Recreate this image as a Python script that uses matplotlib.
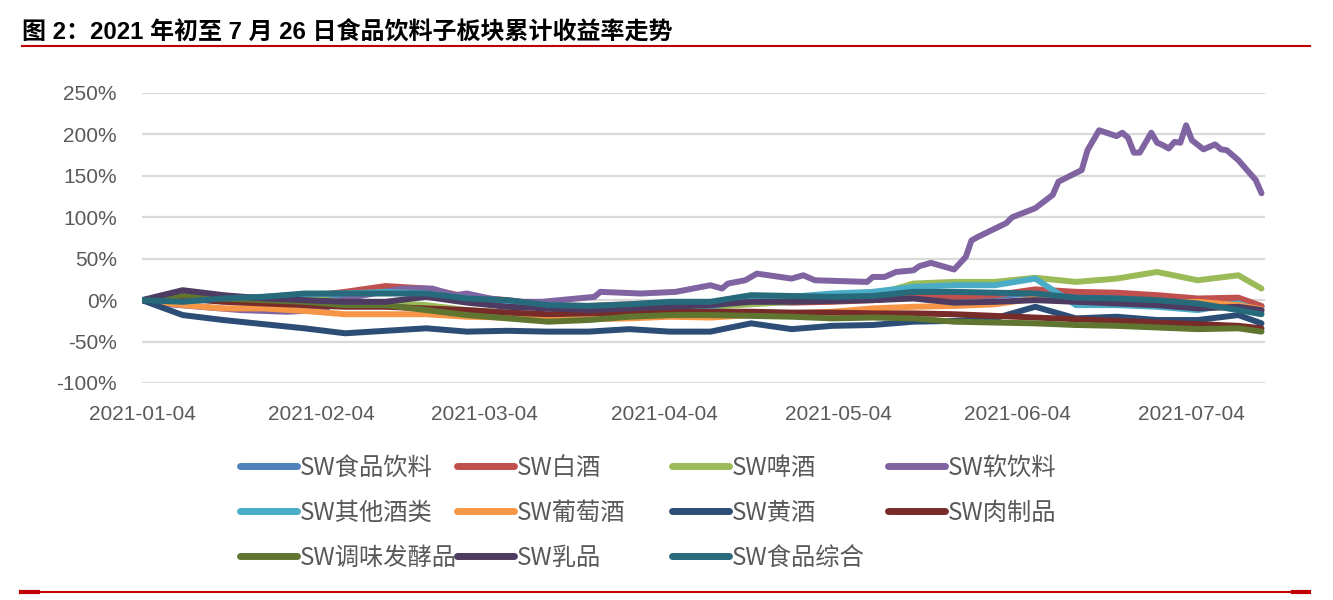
import matplotlib
matplotlib.use("Agg")
import matplotlib.pyplot as plt
import matplotlib.dates as mdates
from matplotlib.lines import Line2D
from matplotlib.ticker import FixedLocator, FuncFormatter
import pandas as pd

plt.rcParams['font.family'] = ['Liberation Sans', 'Noto Sans CJK SC', 'DejaVu Sans']

title = "图 2：2021 年初至 7 月 26 日食品饮料子板块累计收益率走势"

# weekly sampling dates for most series
dates_week = ['2021-01-04', '2021-01-11', '2021-01-18', '2021-01-25', '2021-02-01',
              '2021-02-08', '2021-02-15', '2021-02-22', '2021-03-01', '2021-03-08',
              '2021-03-15', '2021-03-22', '2021-03-29', '2021-04-05', '2021-04-12',
              '2021-04-19', '2021-04-26', '2021-05-03', '2021-05-10', '2021-05-17',
              '2021-05-24', '2021-05-31', '2021-06-07', '2021-06-14', '2021-06-21',
              '2021-06-28', '2021-07-05', '2021-07-12', '2021-07-16']

food_bev = [0, 0, 0, 2, 4, 6, 12, 10, 2, -2, -7, -8, -6, -4, -4, -2, -2, -1, 1, 4, 4, 5, 8, 5, 4, 2, -2, -2, -8]
baijiu = [0, 2, 0, 2, 4, 10, 17, 14, 4, 0, -6, -7, -5, -3, -3, -2, -3, -2, 0, 4, 4, 6, 13, 10, 9, 6, 2, 3, -7]
beer = [0, 4, 0, 0, 2, -2, -3, -6, -12, -15, -18, -15, -12, -12, -8, -5, -2, 4, 6, 20, 22, 22, 27, 22, 26, 34, 24, 30, 14]
other_liquor = [0, -2, 2, 4, 7, 8, 10, 8, 2, -2, -6, -8, -6, -4, -8, 2, 4, 8, 10, 16, 18, 18, 26, -6, -6, -8, -12, -4, -14]
wine = [0, -6, -10, -10, -13, -17, -17, -17, -20, -21, -24, -23, -22, -20, -21, -18, -16, -14, -10, -8, -7, -5, 2, 0, -1, -3, -2, -6, -11]
rice_wine = [0, -18, -24, -29, -34, -40, -37, -34, -38, -37, -38, -38, -35, -38, -38, -28, -35, -31, -30, -26, -25, -22, -8, -22, -20, -24, -24, -18, -28]
meat = [0, 2, -2, -4, -6, -8, -8, -10, -12, -15, -17, -16, -15, -14, -14, -14, -15, -15, -16, -16, -17, -19, -21, -23, -25, -27, -29, -31, -34]
seasoning = [0, 6, 2, 0, -2, -6, -6, -12, -18, -22, -26, -24, -20, -18, -18, -19, -20, -22, -21, -22, -26, -27, -28, -30, -31, -33, -35, -34, -38]
dairy = [0, 12, 6, 2, 0, -2, -2, 4, -3, -8, -10, -12, -10, -8, -6, -2, -2, -1, 0, 2, -3, -2, 0, -2, -4, -6, -10, -8, -12]
food_misc = [0, -2, 2, 4, 8, 8, 8, 8, 2, 0, -6, -7, -5, -2, -2, 6, 5, 4, 5, 10, 10, 9, 8, 3, 2, 0, -4, -12, -17]

# soft drinks need finer detail
dates_soft = ['2021-01-04', '2021-01-07', '2021-01-14', '2021-01-21', '2021-01-29', '2021-02-04',
              '2021-02-08', '2021-02-13', '2021-02-18', '2021-02-23', '2021-02-27', '2021-03-01',
              '2021-03-05', '2021-03-09', '2021-03-14', '2021-03-23', '2021-03-24', '2021-03-31',
              '2021-04-06', '2021-04-12', '2021-04-14', '2021-04-15', '2021-04-18', '2021-04-20',
              '2021-04-22', '2021-04-26', '2021-04-28', '2021-04-30', '2021-05-09', '2021-05-10',
              '2021-05-12', '2021-05-14', '2021-05-17', '2021-05-18', '2021-05-20', '2021-05-24',
              '2021-05-26', '2021-05-27', '2021-05-28', '2021-06-02', '2021-06-03', '2021-06-07',
              '2021-06-10', '2021-06-11', '2021-06-15', '2021-06-16', '2021-06-18', '2021-06-21',
              '2021-06-22', '2021-06-23', '2021-06-24', '2021-06-25', '2021-06-27', '2021-06-28',
              '2021-06-29', '2021-06-30', '2021-07-01', '2021-07-02', '2021-07-03', '2021-07-04',
              '2021-07-06', '2021-07-08', '2021-07-09', '2021-07-10', '2021-07-12', '2021-07-15',
              '2021-07-16']
soft_drink = [0, -4, -8, -12, -14, -12, 2, 8, 14, 14, 6, 8,
              2, -2, -2, 4, 10, 8, 10, 18, 14, 20, 24, 32,
              30, 26, 30, 24, 22, 28, 28, 34, 36, 41, 45, 37,
              52, 72, 76, 93, 100, 111, 127, 143, 157, 181, 205, 198,
              202, 196, 178, 178, 202, 190, 187, 183, 191, 190, 211, 193,
              182, 188, 182, 181, 169, 145, 129]

names = ['SW食品饮料', 'SW白酒', 'SW啤酒', 'SW软饮料', 'SW其他酒类', 'SW葡萄酒',
         'SW黄酒', 'SW肉制品', 'SW调味发酵品', 'SW乳品', 'SW食品综合']
colors = ['#4F81BD', '#C0504D', '#9BBB59', '#8064A2', '#4BACC6', '#F79646',
          '#2C4D75', '#772C2A', '#5F7530', '#4D3B62', '#276A7C']
weekly = [food_bev, baijiu, beer, None, other_liquor, wine, rice_wine, meat,
          seasoning, dairy, food_misc]

tick_dates = ['2021-01-04', '2021-02-04', '2021-03-04', '2021-04-04',
              '2021-05-04', '2021-06-04', '2021-07-04']

W, H = 1333, 600
fig = plt.figure(figsize=(W / 100, H / 100), dpi=100)
ax = fig.add_axes([142 / W, 1 - 383 / H, (1265 - 142) / W, (383 - 93) / H])

xw = pd.to_datetime(dates_week)
xs = pd.to_datetime(dates_soft)
for name, col, vals in zip(names, colors, weekly):
    if vals is None:
        ax.plot(xs, soft_drink, color=col, lw=4.3, label=name,
                solid_joinstyle='round', solid_capstyle='round')
    else:
        ax.plot(xw, vals, color=col, lw=4.3, label=name,
                solid_joinstyle='round', solid_capstyle='round')

ax.set_ylim(-100, 250)
ax.set_yticks(range(-100, 251, 50))
ax.yaxis.set_major_formatter(FuncFormatter(lambda v, p: f'{int(v)}%'))
ax.set_xlim(pd.Timestamp('2021-01-04'), pd.Timestamp('2021-01-04') + pd.Timedelta(days=193.6))
ax.xaxis.set_major_locator(FixedLocator(mdates.date2num(pd.to_datetime(tick_dates))))
ax.xaxis.set_major_formatter(mdates.DateFormatter('%Y-%m-%d'))
ax.yaxis.grid(True, color='#D9D9D9', lw=1.6)
ax.set_axisbelow(True)
for s in ax.spines.values():
    s.set_visible(False)
ax.tick_params(axis='y', length=0, pad=18, labelsize=15, labelcolor='#595959')
ax.tick_params(axis='x', length=0, pad=15.5, labelsize=15, labelcolor='#595959')

# legend: four fixed-width columns like the Excel original
handles, labels = ax.get_legend_handles_labels()
col_x = [240, 457, 672, 888]
for c in range(4):
    lg = fig.legend(handles[c::4], labels[c::4], loc='upper left',
                    bbox_to_anchor=(col_x[c] / W, 1 - 455 / H), frameon=False,
                    borderpad=0, borderaxespad=0, handlelength=2.35,
                    handletextpad=0.1, labelspacing=0.78,
                    prop={'family': ['Noto Sans CJK SC'], 'size': 17.5})
    for t in lg.get_texts():
        t.set_color('#595959')
    for h in lg.get_lines():
        h.set_linewidth(5)

fig.text(22 / W, 1 - 33 / H, title, fontsize=17.3, fontweight='bold', va='center', ha='left')
fig.add_artist(Line2D([22 / W, 1310 / W], [1 - 46 / H] * 2, color='#C00000', lw=1.5))
fig.add_artist(Line2D([21 / W, 1309 / W], [1 - 592 / H] * 2, color='#C00000', lw=1.5))
fig.add_artist(Line2D([21 / W, 38 / W], [1 - 592 / H] * 2, color='#C00000', lw=3))
fig.add_artist(Line2D([1293 / W, 1309 / W], [1 - 592 / H] * 2, color='#C00000', lw=3))

fig.savefig('out.png', dpi=100)
